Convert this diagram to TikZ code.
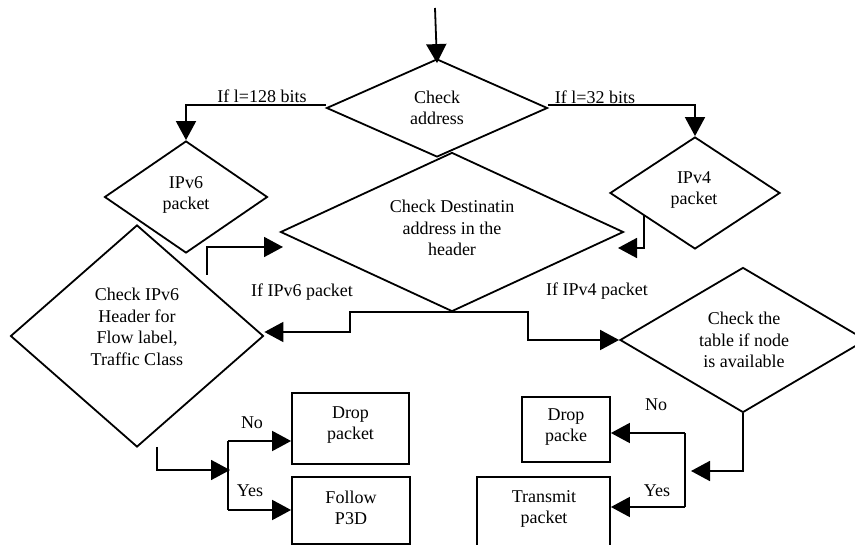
\documentclass[tikz,border=0pt]{standalone}
\usepackage{fontspec}
\setmainfont{Liberation Serif}
\usetikzlibrary{shapes.geometric,arrows.meta,calc}
\begin{document}
\begin{tikzpicture}[x=1pt,y=-1pt,line width=1.8pt,
  dia/.style 2 args={diamond,draw,inner sep=0pt,minimum width=#1,minimum height=#2},
  box/.style 2 args={rectangle,draw,inner sep=0pt,minimum width=#1,minimum height=#2},
  txt/.style={inner sep=0pt,align=center,font=\fontsize{18}{21.5}\selectfont},
  lbl/.style={inner sep=0pt,font=\fontsize{18}{21.5}\selectfont},
  arr/.style={-{Triangle[length=19pt,width=20pt]}}]
\useasboundingbox (0,0) rectangle (855,545);
\clip (0,0) rectangle (855,545);
% diamonds
\node[dia={221pt}{98pt}] (chk) at (437,108) {};
\node[txt] (chkT) at (437,108) {Check\\address};
\node[dia={163pt}{112pt}] (v6) at (186,197) {};
\node[txt] (v6T) at (186,195) {IPv6\\packet};
\node[dia={170pt}{112pt}] (v4) at (695,193) {};
\node[txt] (v4T) at (694,190) {IPv4\\packet};
\node[dia={343pt}{159pt}] (dst) at (452,232) {};
\node[txt] (dstT) at (452,228) {Check Destinatin\\address in the\\header};
\node[dia={253pt}{222pt}] (hdr) at (137,336) {};
\node[txt] (hdrT) at (137,327) {Check IPv6\\Header for\\Flow label,\\Traffic Class};
\node[dia={246pt}{145pt}] (tbl) at (743,340) {};
\node[txt] (tblT) at (744,340) {Check the\\table if node\\is available};
% boxes
\node[box={117pt}{71pt}] (dp6) at (350.5,428.5) {};
\node[txt] (dp6T) at (350.5,425) {Drop\\packet};
\node[box={118pt}{67pt}] (fp) at (351,510.5) {};
\node[txt] (fpT) at (351,508) {Follow\\P3D};
\node[box={88pt}{65pt}] (dp4) at (566,429.5) {};
\node[txt] (dp4T) at (566,427) {Drop\\packe};
\node[box={133pt}{71pt}] (tx) at (543.5,512.5) {};
\node[txt] (txT) at (544,509) {Transmit\\packet};
% labels
\node[lbl] (l128) at (262,96) {If l=128 bits};
\node[lbl] (l32) at (595,97) {If l=32 bits};
\node[lbl] (lv6) at (302,292) {If IPv6 packet};
\node[lbl] (lv4) at (597,291) {If IPv4 packet};
\node[lbl] (no6) at (252,423) {No};
\node[lbl] (yes6) at (250,491) {Yes};
\node[lbl] (no4) at (656,405) {No};
\node[lbl] (yes4) at (657,491) {Yes};
% coordinates
\coordinate (start) at (435,8);
\coordinate (v4out) at (644,215);
\coordinate (v4end) at (618,248);
\coordinate (h6out) at (207,275);
\coordinate (h6end) at (283,247);
\coordinate (t4end) at (691,471);
\coordinate (j4a) at (685,433);
\coordinate (j4b) at (685,507);
\coordinate (hout) at (157,447);
\coordinate (j6end) at (230,470);
\coordinate (j6a) at (228,441);
\coordinate (j6b) at (228,510);
% connectors
\draw[arr] (start) -- ([yshift=-5pt]chk.north);
\draw[arr] ([yshift=3pt]chk.west) -| (v6.north);
\draw[arr] ([yshift=3pt]chk.east) -| (v4.north);
\draw[arr] (v4out) |- (v4end);
\draw[arr] (h6out) |- (h6end);
\draw[arr] (dst.south) -- ++(-102,0) |- ([yshift=4pt]hdr.east);
\draw[arr] (dst.south) -- ++(76,0) |- (tbl.west);
\draw[arr] (tbl.south) |- (t4end);
\draw (j4a) -- (j4b);
\draw[arr] (j4a) -- (j4a -| dp4.east);
\draw[arr] (j4b) -- (j4b -| tx.east);
\draw[arr] (hout) |- (j6end);
\draw (j6a) -- (j6b);
\draw[arr] (j6a) -- (j6a -| dp6.west);
\draw[arr] (j6b) -- (j6b -| fp.west);
\end{tikzpicture}
\end{document}
